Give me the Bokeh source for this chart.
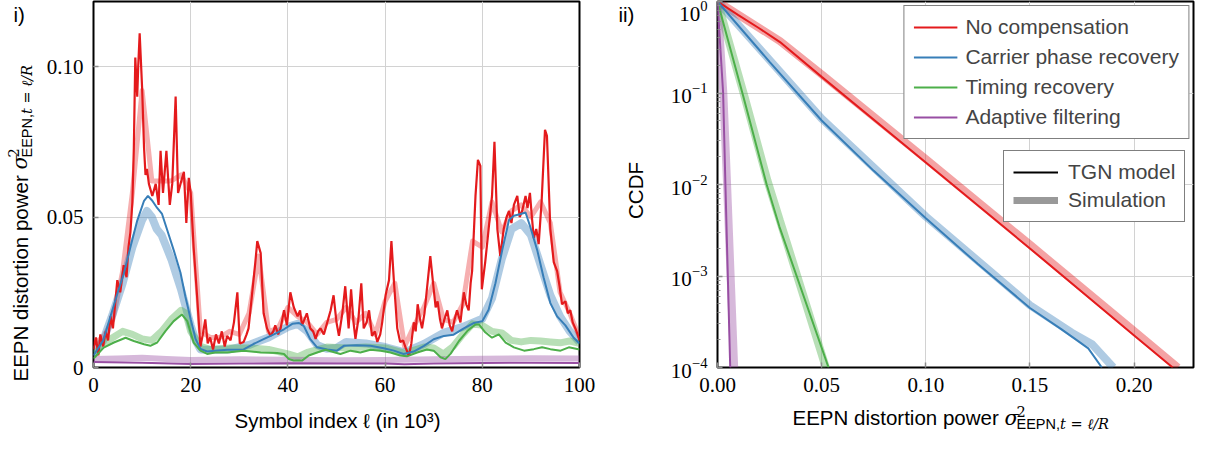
from math import pi
from bokeh.plotting import figure
from bokeh.models import (Range1d, FixedTicker, Label, Legend, LegendItem, GridBox,
                          CustomJSTickFormatter, NumeralTickFormatter)
from bokeh.layouts import column
from bokeh.embed import file_html
from bokeh.resources import INLINE

# ---------------- data: panel i) (time series) ----------------
red_l = [0.0, 0.5, 1.0, 1.4, 2.0, 2.5, 3.0, 3.5, 4.0, 4.5,
         4.9, 5.5, 6.2, 6.8, 7.2, 7.6, 8.0, 8.3, 8.6, 9.0,
         9.2, 9.5, 10.0, 10.4, 10.7, 11.0, 11.4, 12.1, 12.8, 13.4,
         13.8, 14.3, 15.0, 15.7, 16.2, 16.9, 17.4, 17.9, 18.6, 19.1,
         19.6, 20.0, 20.6, 21.3, 22.0, 22.5, 23.0, 23.5, 24.0, 24.6,
         25.2, 25.8, 26.4, 27.0, 27.5, 28.2, 28.9, 29.6, 30.1, 30.9,
         31.5, 31.9, 32.6, 33.3, 33.7, 34.4, 35.0, 35.7, 36.4, 37.0,
         37.4, 38.0, 38.5, 39.2, 39.8, 40.5, 41.2, 42.0, 42.5, 42.9,
         43.4, 43.9, 44.6, 45.2, 45.7, 46.2, 46.7, 47.4, 48.1, 48.8,
         49.4, 50.0, 50.5, 51.2, 51.8, 52.5, 53.0, 53.5, 53.9, 54.5,
         55.1, 55.6, 56.2, 56.7, 57.3, 57.9, 58.4, 59.0, 59.4, 60.1,
         60.8, 61.3, 61.8, 62.5, 63.1, 63.7, 64.2, 64.9, 65.4, 65.9,
         66.3, 66.7, 67.2, 67.6, 68.1, 68.6, 69.3, 70.0, 70.4, 70.8,
         71.3, 71.7, 72.2, 72.8, 73.3, 73.8, 74.3, 74.8, 75.5, 76.2,
         76.7, 77.2, 77.6, 77.9, 78.6, 79.1, 79.6, 79.9, 80.6, 81.3,
         82.0, 82.5, 83.1, 83.7, 84.4, 85.0, 85.5, 86.0, 86.5, 87.2,
         87.7, 88.2, 88.9, 89.3, 89.8, 90.2, 90.6, 91.1, 91.6, 92.2,
         92.9, 93.3, 94.0, 94.7, 95.4, 95.9, 96.4, 97.1, 97.6, 98.1,
         98.6, 99.2, 99.6, 100.0]
red_v = [0.006, 0.010, 0.004, 0.011, 0.007, 0.012, 0.009, 0.017, 0.013, 0.022,
         0.029, 0.025, 0.034, 0.030, 0.040, 0.045, 0.055, 0.073, 0.103, 0.090,
         0.100, 0.111, 0.093, 0.073, 0.064, 0.066, 0.061, 0.057, 0.061, 0.054,
         0.072, 0.058, 0.072, 0.054, 0.061, 0.090, 0.058, 0.061, 0.065, 0.048,
         0.063, 0.058, 0.040, 0.024, 0.007, 0.011, 0.016, 0.008, 0.010, 0.006,
         0.011, 0.008, 0.012, 0.007, 0.0105, 0.009, 0.015, 0.025, 0.008, 0.0085,
         0.011, 0.013, 0.024, 0.035, 0.042, 0.038, 0.018, 0.013, 0.0105, 0.012,
         0.014, 0.011, 0.013, 0.019, 0.014, 0.025, 0.020, 0.017, 0.019, 0.014,
         0.016, 0.018, 0.013, 0.012, 0.0095, 0.012, 0.013, 0.011, 0.015, 0.019,
         0.024, 0.015, 0.0105, 0.018, 0.027, 0.013, 0.026, 0.015, 0.0095, 0.016,
         0.028, 0.013, 0.015, 0.019, 0.0105, 0.012, 0.0085, 0.011, 0.015, 0.024,
         0.029, 0.042, 0.029, 0.013, 0.0085, 0.009, 0.0067, 0.0039, 0.008, 0.015,
         0.012, 0.021, 0.016, 0.013, 0.018, 0.026, 0.037, 0.026, 0.020, 0.022,
         0.016, 0.013, 0.016, 0.019, 0.014, 0.012, 0.016, 0.019, 0.015, 0.025,
         0.021, 0.019, 0.028, 0.032, 0.057, 0.069, 0.067, 0.026, 0.035, 0.046,
         0.057, 0.075, 0.046, 0.037, 0.046, 0.050, 0.052, 0.048, 0.054, 0.057,
         0.050, 0.052, 0.057, 0.053, 0.058, 0.050, 0.043, 0.046, 0.041, 0.055,
         0.079, 0.077, 0.046, 0.035, 0.032, 0.027, 0.021, 0.022, 0.018, 0.019,
         0.015, 0.0128, 0.011, 0.009]

red_sim_l = [0, 2, 4, 6, 8, 10, 12, 14, 16, 18, 20, 22, 24, 26, 28, 30, 32, 34, 36, 38,
             40, 42, 44, 46, 48, 50, 52, 54, 56, 58, 60, 62, 64, 66, 68, 70, 72, 74, 76, 78,
             80, 82, 84, 86, 88, 90, 92, 94, 96, 98, 100]
red_sim_v = [0.008, 0.010, 0.016, 0.032, 0.058, 0.092, 0.062, 0.062, 0.062, 0.064,
             0.058, 0.012, 0.010, 0.010, 0.012, 0.011, 0.018, 0.037, 0.012, 0.013,
             0.020, 0.017, 0.015, 0.011, 0.015, 0.016, 0.020, 0.015, 0.018, 0.011,
             0.022, 0.028, 0.007, 0.014, 0.020, 0.028, 0.016, 0.015, 0.021, 0.042,
             0.040, 0.055, 0.045, 0.052, 0.054, 0.050, 0.055, 0.048, 0.025, 0.018,
             0.010]

blue_l = [0, 2, 3.5, 5, 6.2, 7.6, 9, 10.4, 11.2, 12.1, 13.1, 14.1, 15.2, 16.5, 17.9, 18.9,
          20, 21, 22, 23.4, 25, 27.5, 30.9, 32.9, 35, 37.1, 39.2, 40.9, 42.3, 43.3, 44.6,
          46, 48.1, 50.1, 51.5, 54.2, 57, 59.7, 61.8, 63.8, 65.9, 68, 70, 72.1, 74.1, 76.2,
          78.3, 80, 81.3, 82.7, 84.1, 85.5, 86.5, 87.9, 88.9, 89.9, 91.3, 92.6, 94, 95.4,
          97.1, 98.8, 100]
blue_v = [0.004, 0.009, 0.017, 0.025, 0.031, 0.040, 0.0488, 0.0554, 0.057, 0.0554, 0.053,
          0.051, 0.0455, 0.039, 0.0315, 0.0236, 0.016, 0.0095, 0.0062, 0.0053, 0.0056,
          0.0059, 0.006, 0.0078, 0.0094, 0.011, 0.0127, 0.0145, 0.0148, 0.0137, 0.0094,
          0.0067, 0.006, 0.0056, 0.0072, 0.0074, 0.0072, 0.0064, 0.0056, 0.0045, 0.0053,
          0.0072, 0.0094, 0.0105, 0.0109, 0.013, 0.0148, 0.0154, 0.0192, 0.028, 0.039,
          0.049, 0.0504, 0.051, 0.0515, 0.0466, 0.039, 0.030, 0.0214, 0.017, 0.014,
          0.0099, 0.008]
blue_sim_l = [0, 2, 4, 6, 8, 10, 11, 12, 13, 14, 15, 16, 17, 18, 19, 20, 21, 22, 24, 28,
              32, 36, 40, 42, 44, 46, 48, 50, 52, 56, 60, 64, 68, 72, 76, 80, 82, 84, 86,
              88, 90, 92, 94, 96, 98, 100]
blue_sim_v = [0.005, 0.009, 0.018, 0.028, 0.040, 0.049, 0.052, 0.050, 0.046, 0.044, 0.040,
              0.036, 0.031, 0.026, 0.020, 0.014, 0.009, 0.006, 0.0058, 0.006, 0.0075, 0.010,
              0.0135, 0.0145, 0.012, 0.0075, 0.0062, 0.0065, 0.0085, 0.008, 0.0068, 0.005,
              0.0078, 0.0115, 0.0135, 0.0162, 0.023, 0.036, 0.046, 0.048, 0.044, 0.034,
              0.024, 0.017, 0.012, 0.0085]

green_l = [0, 2.1, 4.2, 6.6, 8.3, 10.4, 11.7, 13.1, 14.8, 16.5, 18.2, 19.3, 20.6, 22, 23.4,
           25, 27.5, 30.9, 34.4, 37.8, 39.2, 40.2, 41.2, 42.9, 44.3, 46, 47.7, 50.8, 52.9,
           54.9, 57, 59.1, 61.1, 63.1, 64.5, 66.6, 68.6, 70, 71.4, 72.4, 73.5, 75.2, 76.9,
           78.6, 79.3, 80.6, 82, 83.4, 84.8, 86.5, 88.6, 90.6, 92.3, 94, 96.1, 97.8, 100]
green_v = [0.003, 0.0066, 0.0083, 0.0099, 0.0088, 0.0077, 0.0072, 0.0083, 0.0121, 0.0154,
           0.0176, 0.0154, 0.0083, 0.0056, 0.0045, 0.005, 0.005, 0.0056, 0.005, 0.0048,
           0.0045, 0.0028, 0.0023, 0.0023, 0.004, 0.005, 0.0059, 0.0045, 0.0056, 0.005,
           0.0059, 0.0056, 0.005, 0.004, 0.0037, 0.005, 0.006, 0.0056, 0.0034, 0.0028,
           0.0046, 0.0088, 0.0121, 0.0143, 0.0143, 0.0117, 0.0099, 0.011, 0.0083, 0.0067,
           0.0056, 0.0061, 0.0067, 0.0061, 0.0056, 0.0067, 0.006]
green_sim_l = [0, 2, 4, 6, 8, 10, 12, 14, 16, 18, 19, 20, 22, 24, 28, 32, 36, 40, 42, 44,
               48, 52, 56, 60, 64, 68, 70, 72, 74, 76, 78, 80, 82, 84, 86, 88, 90, 92, 94,
               96, 98, 100]
green_sim_v = [0.004, 0.008, 0.010, 0.012, 0.011, 0.0095, 0.009, 0.012, 0.016, 0.019, 0.018,
               0.012, 0.007, 0.006, 0.0065, 0.0065, 0.006, 0.0045, 0.0035, 0.005, 0.0068,
               0.0065, 0.0068, 0.0065, 0.0048, 0.0068, 0.0065, 0.0045, 0.007, 0.011, 0.0145,
               0.014, 0.012, 0.0115, 0.009, 0.0085, 0.009, 0.0088, 0.0085, 0.0082, 0.0088,
               0.008]

purple_l = [0, 10, 20, 30, 40, 50, 60, 64, 70, 80, 90, 100]
purple_v = [0.0018, 0.0016, 0.0012, 0.0013, 0.0014, 0.0013, 0.0013, 0.0011, 0.0013, 0.0015,
            0.0016, 0.0015]
purple_sim_l = [0, 5, 10, 15, 20, 30, 40, 50, 60, 70, 80, 90, 100]
purple_sim_v = [0.0028, 0.0030, 0.0032, 0.0028, 0.0025, 0.0027, 0.0026, 0.0024, 0.0025,
                0.0027, 0.0029, 0.0031, 0.0030]

# ---------------- data: panel ii) (CCDF) ----------------
red_cx = [0, 0.01, 0.02, 0.03, 0.05, 0.10, 0.15, 0.20, 0.2185]
red_cy = [1.0, 0.71, 0.51, 0.36, 0.15, 0.0174, 0.0020, 0.000224, 0.0001]
red_sim_cx = [0, 0.03, 0.05, 0.10, 0.15, 0.20, 0.221]
red_sim_cy = [1.0, 0.37, 0.16, 0.019, 0.0022, 0.00025, 0.0001]

blue_cx = [0, 0.025, 0.05, 0.075, 0.10, 0.125, 0.15, 0.165, 0.178, 0.1845]
blue_cy = [1.0, 0.219, 0.0501, 0.0141, 0.00427, 0.00135, 0.000447, 0.000263, 0.000162, 0.0001]
blue_sim_cx = [0, 0.05, 0.10, 0.15, 0.17, 0.18, 0.19]
blue_sim_cy = [1.0, 0.0525, 0.00447, 0.000479, 0.00024, 0.000178, 0.0001]

green_cx = [0, 0.0123, 0.0236, 0.0297, 0.0533]
green_cy = [1.0, 0.0933, 0.01, 0.00347, 0.0001]
green_sim_cx = [0, 0.0125, 0.024, 0.030, 0.052]
green_sim_cy = [1.0, 0.10, 0.011, 0.0040, 0.0001]

purple_cx = [0, 0.0027, 0.0038, 0.0061]
purple_cy = [1.0, 0.1, 0.01, 0.0001]
purple_sim_cx = [0, 0.0028, 0.0046, 0.0080]
purple_sim_cy = [1.0, 0.1, 0.01, 0.0001]

series_names = ["No compensation", "Carrier phase recovery", "Timing recovery",
                "Adaptive filtering"]
style_names = ["TGN model", "Simulation"]

RED, BLUE, GREEN, PURPLE = "#e41a1c", "#377eb8", "#4daf4a", "#984ea3"
TICK = "#8c8c8c"
GRID = "#d2d2d2"
SANS = "Liberation Sans"
SERIF = "Liberation Serif"
MATH = "DejaVu Serif"
W, H = 1195, 434
NAN = float("nan")


def style_axis(ax, minor=False):
    ax.axis_line_color = None
    ax.major_tick_in = 5
    ax.major_tick_out = 0
    ax.major_tick_line_color = TICK
    ax.major_tick_line_width = 1.5
    if minor:
        ax.minor_tick_in = 3
        ax.minor_tick_out = 0
        ax.minor_tick_line_color = TICK
        ax.minor_tick_line_width = 1
    else:
        ax.minor_tick_line_color = None
    ax.major_label_text_font = SERIF
    ax.major_label_text_font_size = "21px"
    ax.major_label_text_color = "black"
    ax.major_label_standoff = 10


def base_fig(**kw):
    p = figure(output_backend="svg", toolbar_location=None, height=H,
               min_border_top=1, min_border_bottom=67, **kw)
    p.outline_line_color = "black"
    p.outline_line_width = 2
    p.background_fill_color = "white"
    p.border_fill_color = "white"
    p.xgrid.grid_line_color = GRID
    p.ygrid.grid_line_color = GRID
    p.xgrid.grid_line_width = 1
    p.ygrid.grid_line_width = 1
    return p


# ---------------- panel i) ----------------
p1 = base_fig(width=612, x_range=Range1d(0, 100), y_range=Range1d(0, 0.1216),
              min_border_left=93, min_border_right=33)
p1.xaxis.ticker = FixedTicker(ticks=[0, 20, 40, 60, 80, 100])
p1.yaxis.ticker = FixedTicker(ticks=[0, 0.05, 0.10])
p1.yaxis.formatter = CustomJSTickFormatter(code="return tick == 0 ? '0' : tick.toFixed(2);")
for ax in p1.xaxis + p1.yaxis:
    style_axis(ax)

p1.line(red_sim_l, red_sim_v, line_color=RED, line_alpha=0.35, line_width=5, line_join="round")
p1.line(blue_sim_l, blue_sim_v, line_color=BLUE, line_alpha=0.4, line_width=8, line_join="round")
p1.line(green_sim_l, green_sim_v, line_color=GREEN, line_alpha=0.4, line_width=7, line_join="round")
p1.line(purple_sim_l, purple_sim_v, line_color=PURPLE, line_alpha=0.4, line_width=6, line_join="round")
p1.line(red_l, red_v, line_color=RED, line_width=2.2)
p1.line(blue_l, blue_v, line_color=BLUE, line_width=2)
p1.line(green_l, green_v, line_color=GREEN, line_width=2)
p1.line(purple_l, purple_v, line_color=PURPLE, line_width=2)

# ---------------- panel ii) ----------------
p2 = base_fig(width=583, x_range=Range1d(0, 0.2285), y_range=Range1d(1e-4, 1),
              y_axis_type="log", min_border_left=105, min_border_right=2)
p2.xaxis.ticker = FixedTicker(ticks=[0, 0.05, 0.10, 0.15, 0.20])
p2.xaxis.formatter = NumeralTickFormatter(format="0.00")
for ax in p2.xaxis:
    style_axis(ax)
for ax in p2.yaxis:
    style_axis(ax, minor=True)

p2.line(red_sim_cx, red_sim_cy, line_color=RED, line_alpha=0.4, line_width=8)
p2.line(blue_sim_cx, blue_sim_cy, line_color=BLUE, line_alpha=0.4, line_width=8)
p2.line(green_sim_cx, green_sim_cy, line_color=GREEN, line_alpha=0.4, line_width=8)
p2.line(purple_sim_cx, purple_sim_cy, line_color=PURPLE, line_alpha=0.4, line_width=8)
r_red = p2.line(red_cx, red_cy, line_color=RED, line_width=2)
r_blue = p2.line(blue_cx, blue_cy, line_color=BLUE, line_width=2)
r_green = p2.line(green_cx, green_cy, line_color=GREEN, line_width=2)
r_purple = p2.line(purple_cx, purple_cy, line_color=PURPLE, line_width=2)
# legend-only proxies (no visible data)
r_tgn = p2.line(x=[NAN], y=[NAN], line_color="black", line_width=2)
r_sim = p2.line(x=[NAN], y=[NAN], line_color="#999999", line_width=7)

leg1 = Legend(items=[LegendItem(label=n, renderers=[r]) for n, r in
                     zip(series_names, [r_red, r_blue, r_green, r_purple])],
              location="top_right", margin=4, padding=9, spacing=6,
              glyph_width=44, glyph_height=20, label_standoff=8, label_height=20,
              label_text_font=SANS, label_text_font_size="21px",
              border_line_color="black", border_line_width=1.5,
              background_fill_color="white", background_fill_alpha=1)
leg2 = Legend(items=[LegendItem(label=n, renderers=[r]) for n, r in
                     zip(style_names, [r_tgn, r_sim])],
              location=(286, 145), margin=0, padding=9, spacing=4,
              glyph_width=45, glyph_height=20, label_standoff=10, label_height=20,
              label_text_font=SANS, label_text_font_size="21px",
              border_line_color="black", border_line_width=1.5,
              background_fill_color="white", background_fill_alpha=1)
p2.add_layout(leg1)
p2.add_layout(leg2)

# ---------------- transparent text overlay (page pixel coordinates) ----------------
ov = figure(width=W, height=H, x_range=Range1d(0, W), y_range=Range1d(0, H),
            output_backend="svg", toolbar_location=None,
            x_axis_location=None, y_axis_location=None,
            min_border_left=0, min_border_right=0, min_border_top=0, min_border_bottom=0)
ov.outline_line_color = None
ov.background_fill_alpha = 0
ov.border_fill_alpha = 0
ov.xgrid.visible = False
ov.ygrid.visible = False


def label(text, px, py, font=SANS, size=20.5, style="normal", angle=0.0, align="left"):
    # (px, py): baseline anchor in picture pixels; compensate renderer's baseline offset
    shift = 0.39 * size
    if angle == 0.0:
        py -= shift
    else:
        px -= shift
    ov.add_layout(Label(x=px, y=H - py, text=text,
                        text_font=font, text_font_size=f"{size}px", text_font_style=style,
                        angle=angle, text_align=align, text_baseline="alphabetic",
                        text_color="black"))


label("i)", 13, 22)
label("ii)", 618, 22)
# panel i) y title (rotated)
label("EEPN distortion power", 27.5, 381, angle=pi / 2)
label("σ", 27.5, 169, font=MATH, style="italic", angle=pi / 2)
label("2", 19, 157, font=MATH, size=14.5, angle=pi / 2)
label("EEPN,", 32, 157, size=14.5, angle=pi / 2)
label("t = ℓ/R", 32, 113.5, font=MATH, size=14.5, style="italic", angle=pi / 2)
# panel i) x title
label("Symbol index ℓ (in 10³)", 337, 428, align="center")
# panel ii) y title
label("CCDF", 643, 190, angle=pi / 2, align="center")
# panel ii) x title
label("EEPN distortion power", 792, 425)
label("σ", 1004, 425, font=MATH, style="italic")
label("2", 1016, 416.5, font=MATH, size=14.5)
label("EEPN,", 1016, 429.5, size=14.5)
label("t = ℓ/R", 1059.5, 429.5, font=MATH, size=14.5, style="italic")

# overlay spans extra empty tracks so that its frame is not aligned with the panels
layout = GridBox(children=[(p1, 1, 1), (p2, 1, 2), (column(ov), 0, 0, 3, 4)])
open("out.html", "w").write(file_html(layout, INLINE))
